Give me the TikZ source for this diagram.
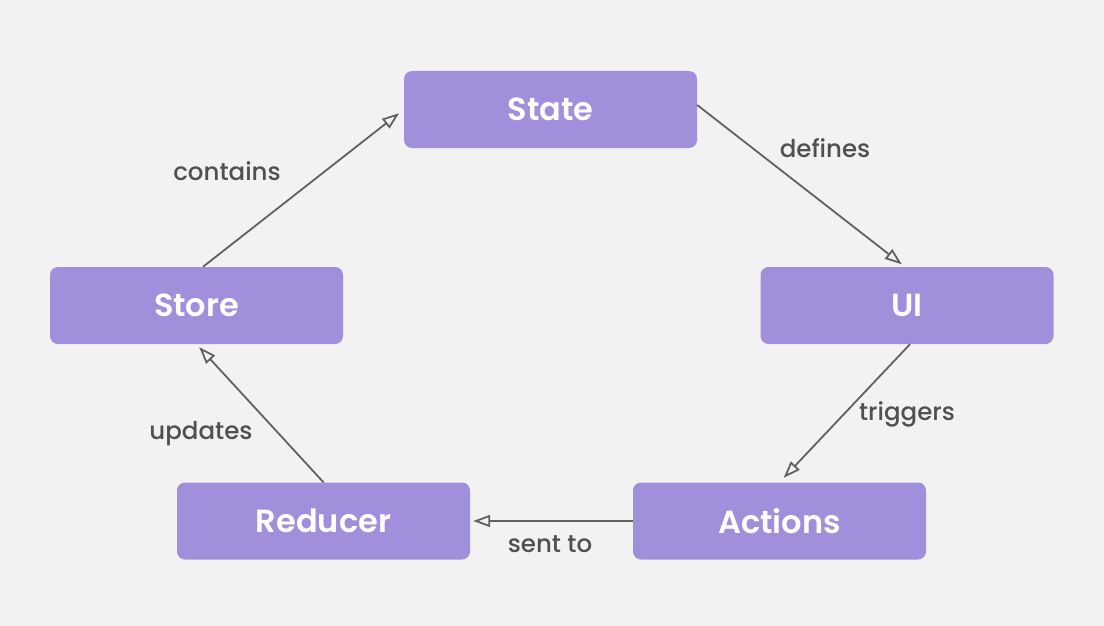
\documentclass[tikz,border=0pt]{standalone}
\usepackage{fontspec}
\setmainfont{Poppins}[BoldFont={* SemiBold}]
\newfontfamily\labelfont{Poppins Medium}
\usetikzlibrary{arrows.meta}
\definecolor{boxpurple}{HTML}{A28FDB}
\definecolor{bggray}{HTML}{F2F2F2}
\definecolor{labelgray}{HTML}{505050}
\begin{document}
\begin{tikzpicture}[x=1pt, y=-1pt,
	stage/.style={fill=boxpurple, rounded corners=8pt, minimum width=293pt, minimum height=77pt, text=white, font=\fontsize{32}{36}\selectfont\bfseries},
	flow/.style={draw=black!62, line width=1.8pt, -{Triangle[open, length=17pt, width=12pt]}},
	lbl/.style={text=labelgray, font=\fontsize{24.5}{28}\labelfont}]
	\fill[bggray] (0,0) rectangle (1104,626);
	\useasboundingbox (0,0) rectangle (1104,626);
	\node[stage] (state) at (550.5,109.5) {State};
	\node[stage] (store) at (196.5,305.5) {Store};
	\node[stage] (ui) at (907,305.5) {UI};
	\node[stage] (reducer) at (323.5,521) {Reducer};
	\node[stage] (actions) at (779.5,521) {Actions};
	\draw[flow, shorten >=6pt] ([xshift=6.5pt]store.north) -- (state.west);
	\draw[flow, shorten >=4pt] ([yshift=4.5pt]state.east) -- ([xshift=-2pt]ui.north);
	\draw[flow, shorten >=6pt] ([xshift=3pt]ui.south) -- (actions.north);
	\draw[flow, shorten >=3pt] (actions.west) -- (reducer.east);
	\draw[flow, shorten >=4pt] (reducer.north) -- (store.south);
	\node[lbl] (contains) at (227,171) {contains};
	\node[lbl] (defines) at (825,148) {defines};
	\node[lbl] (triggers) at (907,414) {triggers};
	\node[lbl] (updates) at (201,434) {updates};
	\node[lbl] (sentto) at (550,544) {sent to};
\end{tikzpicture}
\end{document}
